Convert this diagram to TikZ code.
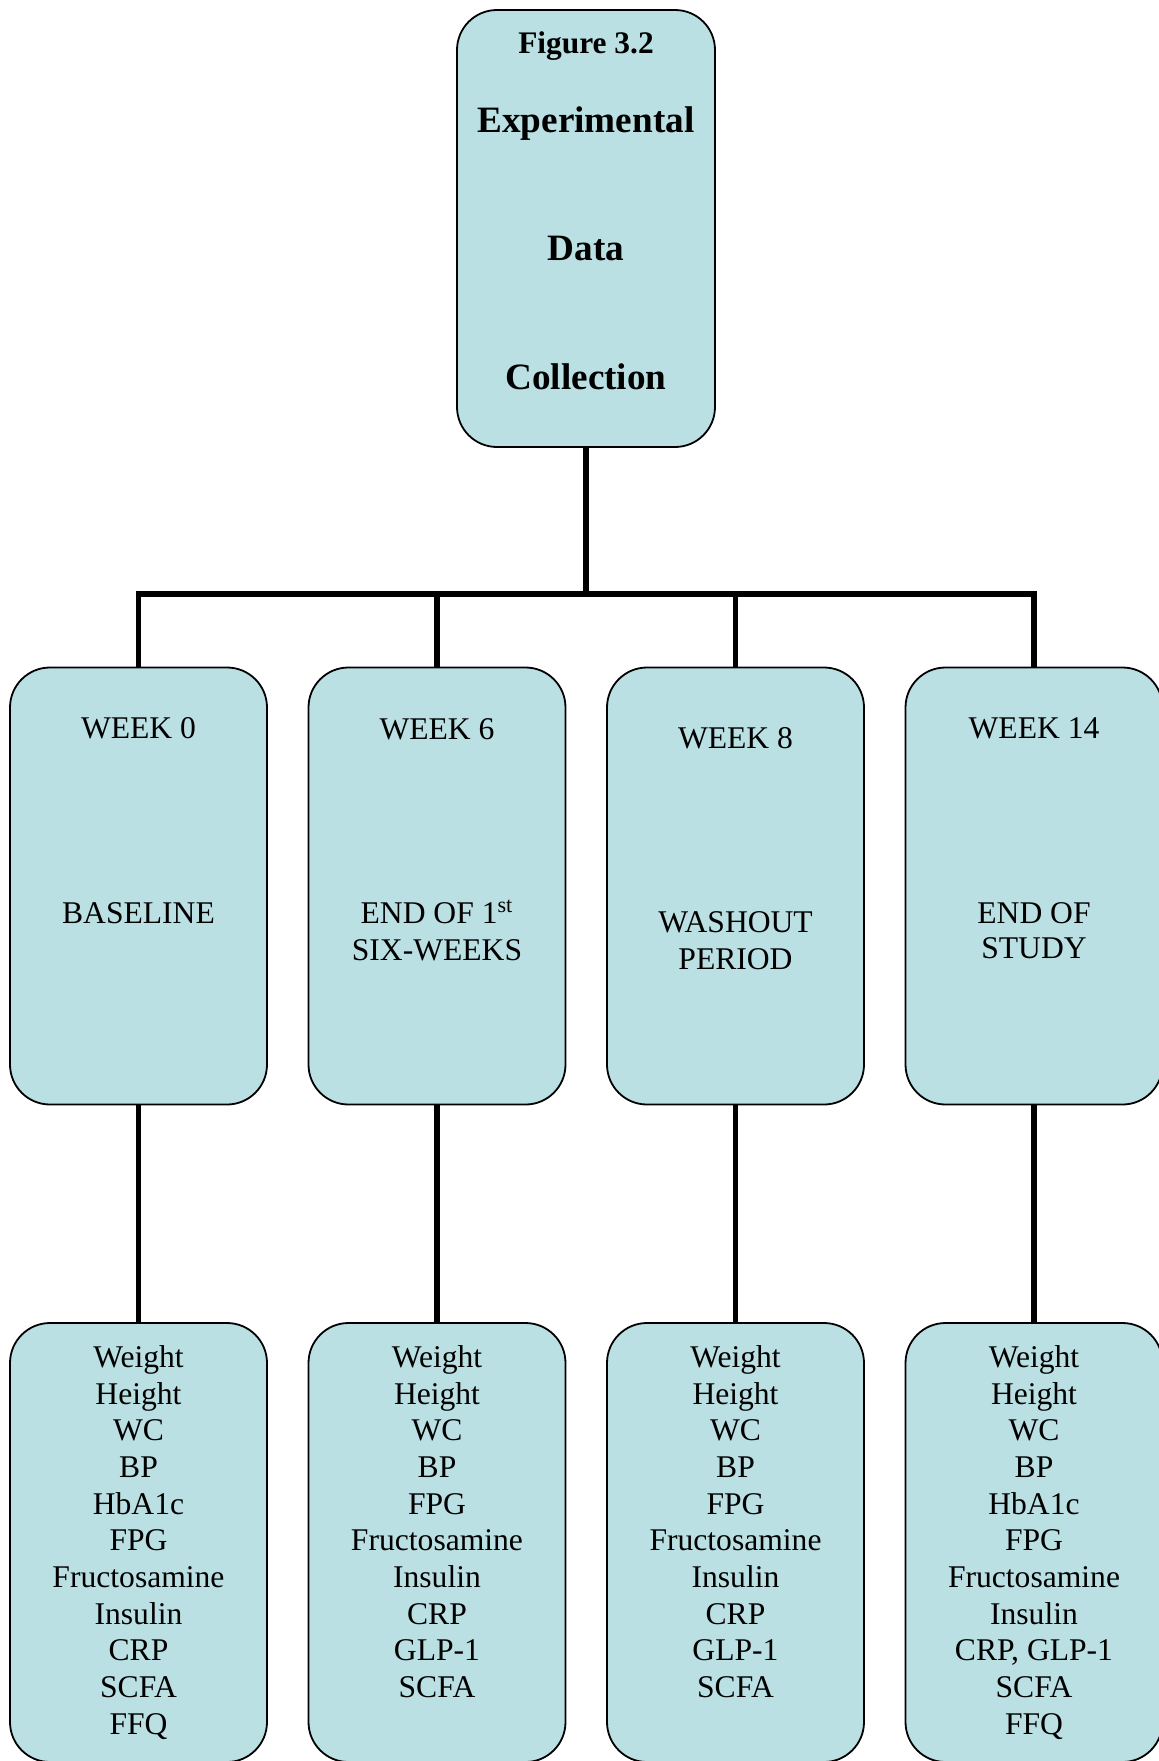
\documentclass[tikz,border=0pt]{standalone}
\usepackage{fontspec}
\setmainfont{Liberation Serif}
\definecolor{boxfill}{RGB}{186,224,227}
\begin{document}
\begin{tikzpicture}[x=0.5pt,y=-0.5pt,
  box/.style={draw=black, line width=0.9pt, fill=boxfill, rounded corners=20pt,
              minimum width=128.5pt, minimum height=218.5pt, inner sep=0pt},
  conn/.style={line width=2.8pt},
  lab/.style={inner sep=0pt, anchor=base, font=\fontsize{15.8}{18.4}\selectfont},
  ttl/.style={inner sep=0pt, anchor=base, font=\bfseries\fontsize{18.6}{20}\selectfont},
  list/.style={inner sep=0pt, anchor=north, align=center, font=\fontsize{15.8}{18.35}\selectfont}]
\clip (0,0) rectangle (1159,1761);
% top box
\node[box, minimum width=129pt] (top) at (586,228.5) {};
\node[inner sep=0pt, anchor=base, font=\bfseries\fontsize{15.7}{18}\selectfont] (t1) at (586,53) {Figure 3.2};
\node[ttl] (t2) at (586,132) {Experimental};
\node[ttl] (t3) at (586,260) {Data};
\node[ttl] (t4) at (586,389) {Collection};
% second row
\node[box] (r1) at (138.5,886) {};
\node[box] (r2) at (437,886) {};
\node[box] (r3) at (735.5,886) {};
\node[box] (r4) at (1034,886) {};
\node[lab] (w1) at (138.5,738) {WEEK 0};
\node[lab] (w2) at (437,739) {WEEK 6};
\node[lab] (w3) at (735.5,748) {WEEK 8};
\node[lab] (w4) at (1034,738) {WEEK 14};
\node[lab] (p1) at (138.5,923) {BASELINE};
\node[lab] (p2a) at (437,923) {END OF 1\textsuperscript{st}};
\node[lab] (p2b) at (437,960) {SIX-WEEKS};
\node[lab] (p3a) at (735.5,932) {WASHOUT};
\node[lab] (p3b) at (735.5,969) {PERIOD};
\node[lab] (p4a) at (1034,923) {END OF};
\node[lab] (p4b) at (1034,958) {STUDY};
% third row
\node[box, minimum height=219.5pt] (d1) at (138.5,1542.5) {};
\node[box, minimum height=219.5pt] (d2) at (437,1542.5) {};
\node[box, minimum height=219.5pt] (d3) at (735.5,1542.5) {};
\node[box, minimum height=219.5pt] (d4) at (1034,1542.5) {};
\node[list] (l1) at (138.5,1345) {Weight\\Height\\WC\\BP\\HbA1c\\FPG\\Fructosamine\\Insulin\\CRP\\SCFA\\FFQ};
\node[list] (l2) at (437,1345) {Weight\\Height\\WC\\BP\\FPG\\Fructosamine\\Insulin\\CRP\\GLP-1\\SCFA};
\node[list] (l3) at (735.5,1345) {Weight\\Height\\WC\\BP\\FPG\\Fructosamine\\Insulin\\CRP\\GLP-1\\SCFA};
\node[list] (l4) at (1034,1345) {Weight\\Height\\WC\\BP\\HbA1c\\FPG\\Fructosamine\\Insulin\\CRP, GLP-1\\SCFA\\FFQ};
% connectors
\coordinate (bus) at (586,594);
\draw[conn] (top.south) -- (bus);
\draw[conn] (r1.north) -- (r1.north |- bus) -- (r4.north |- bus) -- (r4.north);
\draw[conn] (r2.north) -- (r2.north |- bus);
\draw[conn] (r3.north) -- (r3.north |- bus);
\draw[conn] (r1.south) -- (d1.north);
\draw[conn] (r2.south) -- (d2.north);
\draw[conn] (r3.south) -- (d3.north);
\draw[conn] (r4.south) -- (d4.north);
\end{tikzpicture}
\end{document}
